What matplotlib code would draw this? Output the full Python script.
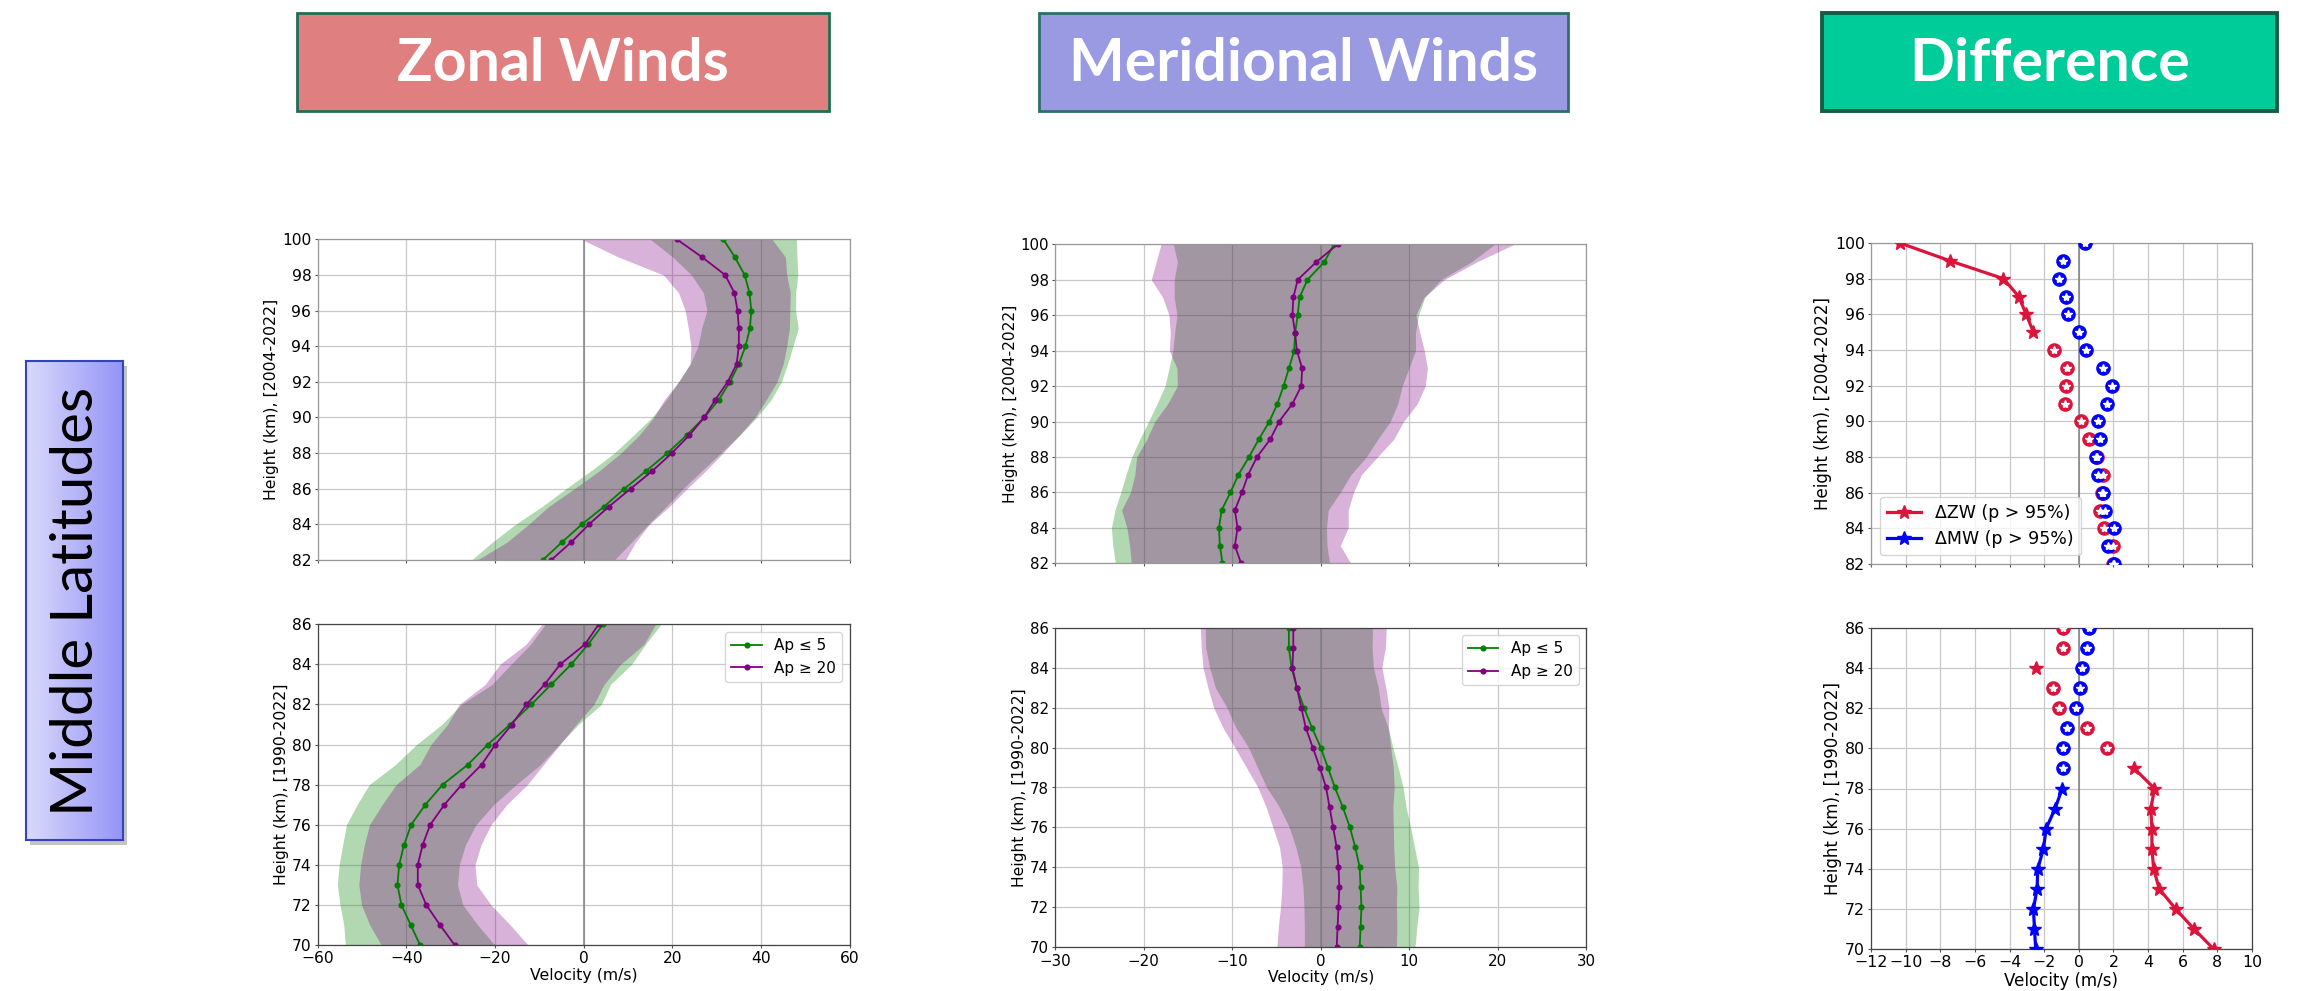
import numpy as np
import matplotlib
matplotlib.use("Agg")
import matplotlib.pyplot as plt
from matplotlib.patches import Rectangle
from matplotlib.colors import LinearSegmentedColormap
from matplotlib.lines import Line2D

# ---------------- data ----------------
h_upper = np.arange(82, 101)   # 2004-2022
h_lower = np.arange(70, 87)    # 1990-2022

# Zonal winds, upper (82..100 km)
zw_up_low_mean = [-9.2, -4.9, -0.4, 4.6, 9.2, 14.1, 18.9, 23.2, 27.2, 30.5, 33.0, 35.0, 36.5, 37.5, 37.8, 37.4, 36.3, 34.1, 31.5]
zw_up_low_std = [16.1, 15.7, 15.0, 14.0, 13.2, 12.5, 12.0, 12.0, 11.8, 11.8, 11.6, 11.0, 10.7, 10.9, 10.0, 10.4, 12.0, 14.0, 16.5]
zw_up_high_mean = [-7.3, -2.8, 1.2, 5.7, 10.6, 15.5, 19.9, 23.8, 27.2, 29.7, 32.5, 34.5, 35.0, 35.0, 34.7, 34.0, 31.9, 26.7, 21.0]
zw_up_high_std = [16.7, 14.5, 13.6, 13.6, 12.7, 12.0, 11.5, 11.3, 11.4, 11.5, 11.1, 10.5, 10.8, 11.4, 11.8, 12.6, 13.9, 18.8, 21.5]

# Zonal winds, lower (70..86 km)
zw_lo_low_mean = [-36.9, -39.0, -41.1, -42.0, -41.6, -40.5, -38.9, -35.7, -31.8, -26.1, -21.6, -16.6, -11.8, -7.3, -2.8, 1.0, 4.4]
zw_lo_low_std = [16.85, 15.1, 13.85, 13.55, 13.55, 13.85, 14.6, 15.4, 16.55, 16.35, 16.1, 15.4, 15.8, 13.35, 13.6, 12.95, 13.05]
zw_lo_high_mean = [-29.1, -32.4, -35.5, -37.4, -37.4, -36.3, -34.6, -31.4, -27.5, -23.0, -19.9, -16.2, -12.9, -8.8, -5.3, 0.3, 3.4]
zw_lo_high_std = [16.55, 15.85, 14.6, 13.3, 12.9, 13.15, 13.7, 14.05, 14.8, 13.95, 14.55, 14.5, 15.2, 13.4, 13.6, 13.3, 12.8]

# Meridional winds, upper (82..100 km)
mw_up_low_mean = [-11.1, -11.4, -11.5, -11.2, -10.2, -9.3, -8.1, -7.0, -5.8, -4.9, -4.2, -3.6, -3.0, -2.9, -2.6, -2.4, -1.5, 0.4, 1.5]
mw_up_low_std = [12.1, 12.1, 12.15, 12.05, 12.4, 12.7, 13.25, 13.45, 13.65, 13.6, 13.4, 13.55, 13.7, 13.6, 13.65, 14.15, 15.05, 16.6, 18.15]
mw_up_high_mean = [-9.0, -9.7, -9.4, -9.7, -8.9, -8.2, -7.2, -5.7, -4.7, -3.2, -2.2, -2.1, -2.7, -2.9, -3.2, -3.1, -2.6, -0.5, 1.9]
mw_up_high_std = [12.4, 11.9, 12.5, 12.8, 12.6, 12.8, 13.6, 13.95, 14.05, 14.1, 14.0, 14.15, 14.4, 14.1, 13.95, 14.75, 16.55, 18.1, 19.95]

# Meridional winds, lower (70..86 km)
mw_lo_low_mean = [4.4, 4.5, 4.6, 4.5, 4.4, 3.9, 3.3, 2.5, 1.6, 0.8, 0.0, -1.0, -1.9, -2.7, -3.3, -3.6, -3.6]
mw_lo_low_std = [6.25, 6.35, 6.5, 6.5, 6.65, 6.7, 6.85, 7.15, 7.7, 7.95, 8.15, 8.6, 8.7, 9.2, 9.25, 9.4, 9.45]
mw_lo_high_mean = [1.8, 1.9, 2.0, 2.1, 2.0, 1.8, 1.4, 1.0, 0.6, -0.1, -0.9, -1.7, -2.2, -2.7, -3.2, -3.1, -3.1]
mw_lo_high_std = [6.75, 6.7, 6.55, 6.5, 6.35, 6.45, 6.8, 7.15, 7.7, 8.3, 8.8, 9.35, 9.9, 10.05, 10.1, 10.4, 10.5]

# Differences (Ap>=20 minus Ap<=5)
dzw_up = [2.0, 2.0, 1.46, 1.23, 1.33, 1.37, 1.04, 0.56, 0.13, -0.77, -0.73, -0.66, -1.46, -2.62, -3.04, -3.47, -4.35, -7.44, -10.33]
dzw_up_sig = [0, 0, 0, 0, 0, 0, 0, 0, 0, 0, 0, 0, 0, 1, 1, 1, 1, 1, 1]
dmw_up = [2.06, 1.71, 2.06, 1.52, 1.37, 1.1, 1.0, 1.23, 1.1, 1.64, 1.91, 1.39, 0.39, 0.0, -0.62, -0.73, -1.16, -0.89, 0.37]
dmw_up_sig = [0] * 19

dzw_lo = [7.78, 6.65, 5.59, 4.64, 4.32, 4.22, 4.22, 4.16, 4.37, 3.2, 1.64, 0.46, -1.16, -1.50, -2.49, -0.89, -0.89]
dzw_lo_sig = [1, 1, 1, 1, 1, 1, 1, 1, 1, 1, 0, 0, 0, 0, 1, 0, 0]
dmw_lo = [-2.49, -2.56, -2.62, -2.41, -2.37, -2.04, -1.89, -1.37, -0.96, -0.91, -0.89, -0.69, -0.19, 0.04, 0.19, 0.5, 0.56]
dmw_lo_sig = [1, 1, 1, 1, 1, 1, 1, 1, 1, 0, 0, 0, 0, 0, 0, 0, 0]

col_titles = ["Zonal Winds", "Meridional Winds", "Difference"]
row_title = "Middle Latitudes"
legend_labels = ["Ap ≤ 5", "Ap ≥ 20"]
diff_labels = ["ΔZW (p > 95%)", "ΔMW (p > 95%)"]
ylab_upper = "Height (km), [2004-2022]"
ylab_lower = "Height (km), [1990-2022]"
xlab = "Velocity (m/s)"

# ---------------- figure ----------------
W, H = 2317, 991
fig = plt.figure(figsize=(W / 100, H / 100), dpi=100)


def px_axes(left, top, right, bottom):
    return fig.add_axes([left / W, 1 - bottom / H, (right - left) / W, (bottom - top) / H])


def style(ax, xlim, xticks, ylim, upper, fs, lfs, spine_col):
    ax.set_xlim(*xlim)
    ax.set_ylim(*ylim)
    ax.set_xticks(xticks)
    ax.set_yticks(np.arange(ylim[0], ylim[1] + 1, 2))
    ax.grid(True, color="#c8c8c8", lw=0.9)
    ax.set_axisbelow(True)
    ax.axvline(0, color="gray", lw=1.1, zorder=1.5)
    ax.tick_params(labelsize=fs, color="#555555", length=2.5, pad=2)
    for s in ax.spines.values():
        s.set_color(spine_col)
        s.set_linewidth(0.9)
    if upper:
        ax.tick_params(labelbottom=False)
        ax.set_ylabel(ylab_upper, fontsize=lfs, labelpad=2)
    else:
        ax.set_ylabel(ylab_lower, fontsize=lfs, labelpad=2)
        ax.set_xlabel(xlab, fontsize=lfs, labelpad=1)


def wind_panel(ax, h, m1, s1, m2, s2):
    m1, s1, m2, s2 = map(np.asarray, (m1, s1, m2, s2))
    ax.fill_betweenx(h, m1 - s1, m1 + s1, color="green", alpha=0.3, lw=0)
    ax.fill_betweenx(h, m2 - s2, m2 + s2, color="purple", alpha=0.3, lw=0)
    ax.plot(m1, h, color="green", marker="o", ms=3.4, lw=1.3, label=legend_labels[0])
    ax.plot(m2, h, color="purple", marker="o", ms=3.4, lw=1.3, label=legend_labels[1])


def diff_series(ax, h, vals, sig, color):
    vals = np.asarray(vals, float)
    sig = np.asarray(sig, bool)
    sig_vals = np.where(sig, vals, np.nan)
    ns_vals = np.where(~sig, vals, np.nan)
    ax.plot(sig_vals, h, color=color, lw=2.3, marker="*", ms=10, zorder=3)
    ax.plot(ns_vals, h, ls="none", marker="o", ms=9.5, color=color, zorder=3)
    ax.plot(ns_vals, h, ls="none", marker="*", ms=6, color="white", zorder=3.1)


zs_col_up, zs_col_lo = "#9a9a9a", "#444444"

# Zonal
ax1 = px_axes(317.6, 239.3, 849.7, 560)
wind_panel(ax1, h_upper, zw_up_low_mean, zw_up_low_std, zw_up_high_mean, zw_up_high_std)
style(ax1, (-60, 60), np.arange(-60, 61, 20), (82, 100), True, 11.2, 11.3, zs_col_up)

ax2 = px_axes(317.6, 624.3, 849.7, 945)
wind_panel(ax2, h_lower, zw_lo_low_mean, zw_lo_low_std, zw_lo_high_mean, zw_lo_high_std)
style(ax2, (-60, 60), np.arange(-60, 61, 20), (70, 86), False, 11.2, 11.3, zs_col_lo)
ax2.legend(loc="upper right", fontsize=11, handlelength=2.0)

# Meridional
ax3 = px_axes(1055.2, 244.3, 1586.3, 563.3)
wind_panel(ax3, h_upper, mw_up_low_mean, mw_up_low_std, mw_up_high_mean, mw_up_high_std)
style(ax3, (-30, 30), np.arange(-30, 31, 10), (82, 100), True, 10.8, 11.2, zs_col_up)

ax4 = px_axes(1055.2, 627.7, 1586.3, 947.3)
wind_panel(ax4, h_lower, mw_lo_low_mean, mw_lo_low_std, mw_lo_high_mean, mw_lo_high_std)
style(ax4, (-30, 30), np.arange(-30, 31, 10), (70, 86), False, 10.8, 11.2, zs_col_lo)
ax4.legend(loc="upper right", fontsize=11, handlelength=2.0)

# Difference
ax5 = px_axes(1871, 243, 2252, 564)
diff_series(ax5, h_upper, dzw_up, dzw_up_sig, "crimson")
diff_series(ax5, h_upper, dmw_up, dmw_up_sig, "blue")
style(ax5, (-12, 10), np.arange(-12, 11, 2), (82, 100), True, 11.3, 12, zs_col_up)
handles = [Line2D([], [], color="crimson", lw=2.3, marker="*", ms=10),
           Line2D([], [], color="blue", lw=2.3, marker="*", ms=10)]
ax5.legend(handles, diff_labels, loc="lower left", fontsize=12.5)

ax6 = px_axes(1871, 628, 2252, 949)
diff_series(ax6, h_lower, dzw_lo, dzw_lo_sig, "crimson")
diff_series(ax6, h_lower, dmw_lo, dmw_lo_sig, "blue")
style(ax6, (-12, 10), np.arange(-12, 11, 2), (70, 86), False, 11.3, 12, zs_col_lo)

# ---------------- column title boxes ----------------
boxes = [(297, 829, "#E07F7F", "#1F6E55", 2.0),
         (1039, 1568, "#9A9AE3", "#2F6E6A", 2.0),
         (1822, 2277, "#00CC99", "#145C46", 2.8)]
for (x0, x1, fc, ec, lw), title in zip(boxes, col_titles):
    y0, y1 = 13, 111
    fig.add_artist(Rectangle((x0 / W, 1 - y1 / H), (x1 - x0) / W, (y1 - y0) / H,
                             transform=fig.transFigure, facecolor=fc, edgecolor=ec, lw=lw))
    fig.text((x0 + x1) / 2 / W, 1 - (y0 + y1 + 4) / 2 / H, title, ha="center", va="center",
             color="white", fontsize=42.5, fontweight="bold", family=["Lato", "DejaVu Sans"])

# ---------------- row label ----------------
bx0, bx1, by0, by1 = 26, 123, 361, 840
fig.add_artist(Rectangle(((bx0 + 4) / W, 1 - (by1 + 5) / H), (bx1 - bx0) / W, (by1 - by0) / H,
                         transform=fig.transFigure, facecolor="#8a8a8a", alpha=0.5, lw=0,
                         zorder=-5))
axr = px_axes(bx0, by0, bx1, by1)
axr.set_zorder(2)
cmap = LinearSegmentedColormap.from_list("lat", ["#DADAFB", "#9494F7"])
axr.imshow(np.linspace(0, 1, 256)[None, :], aspect="auto", cmap=cmap, extent=[0, 1, 0, 1])
axr.set_xticks([])
axr.set_yticks([])
for s in axr.spines.values():
    s.set_color("#3344BB")
    s.set_linewidth(1.5)
axr.text(0.52, 0.497, row_title, rotation=90, ha="center", va="center", fontsize=42,
         color="black", family=["Lato", "DejaVu Sans"], transform=axr.transAxes)

fig.savefig("out.png", dpi=100)
